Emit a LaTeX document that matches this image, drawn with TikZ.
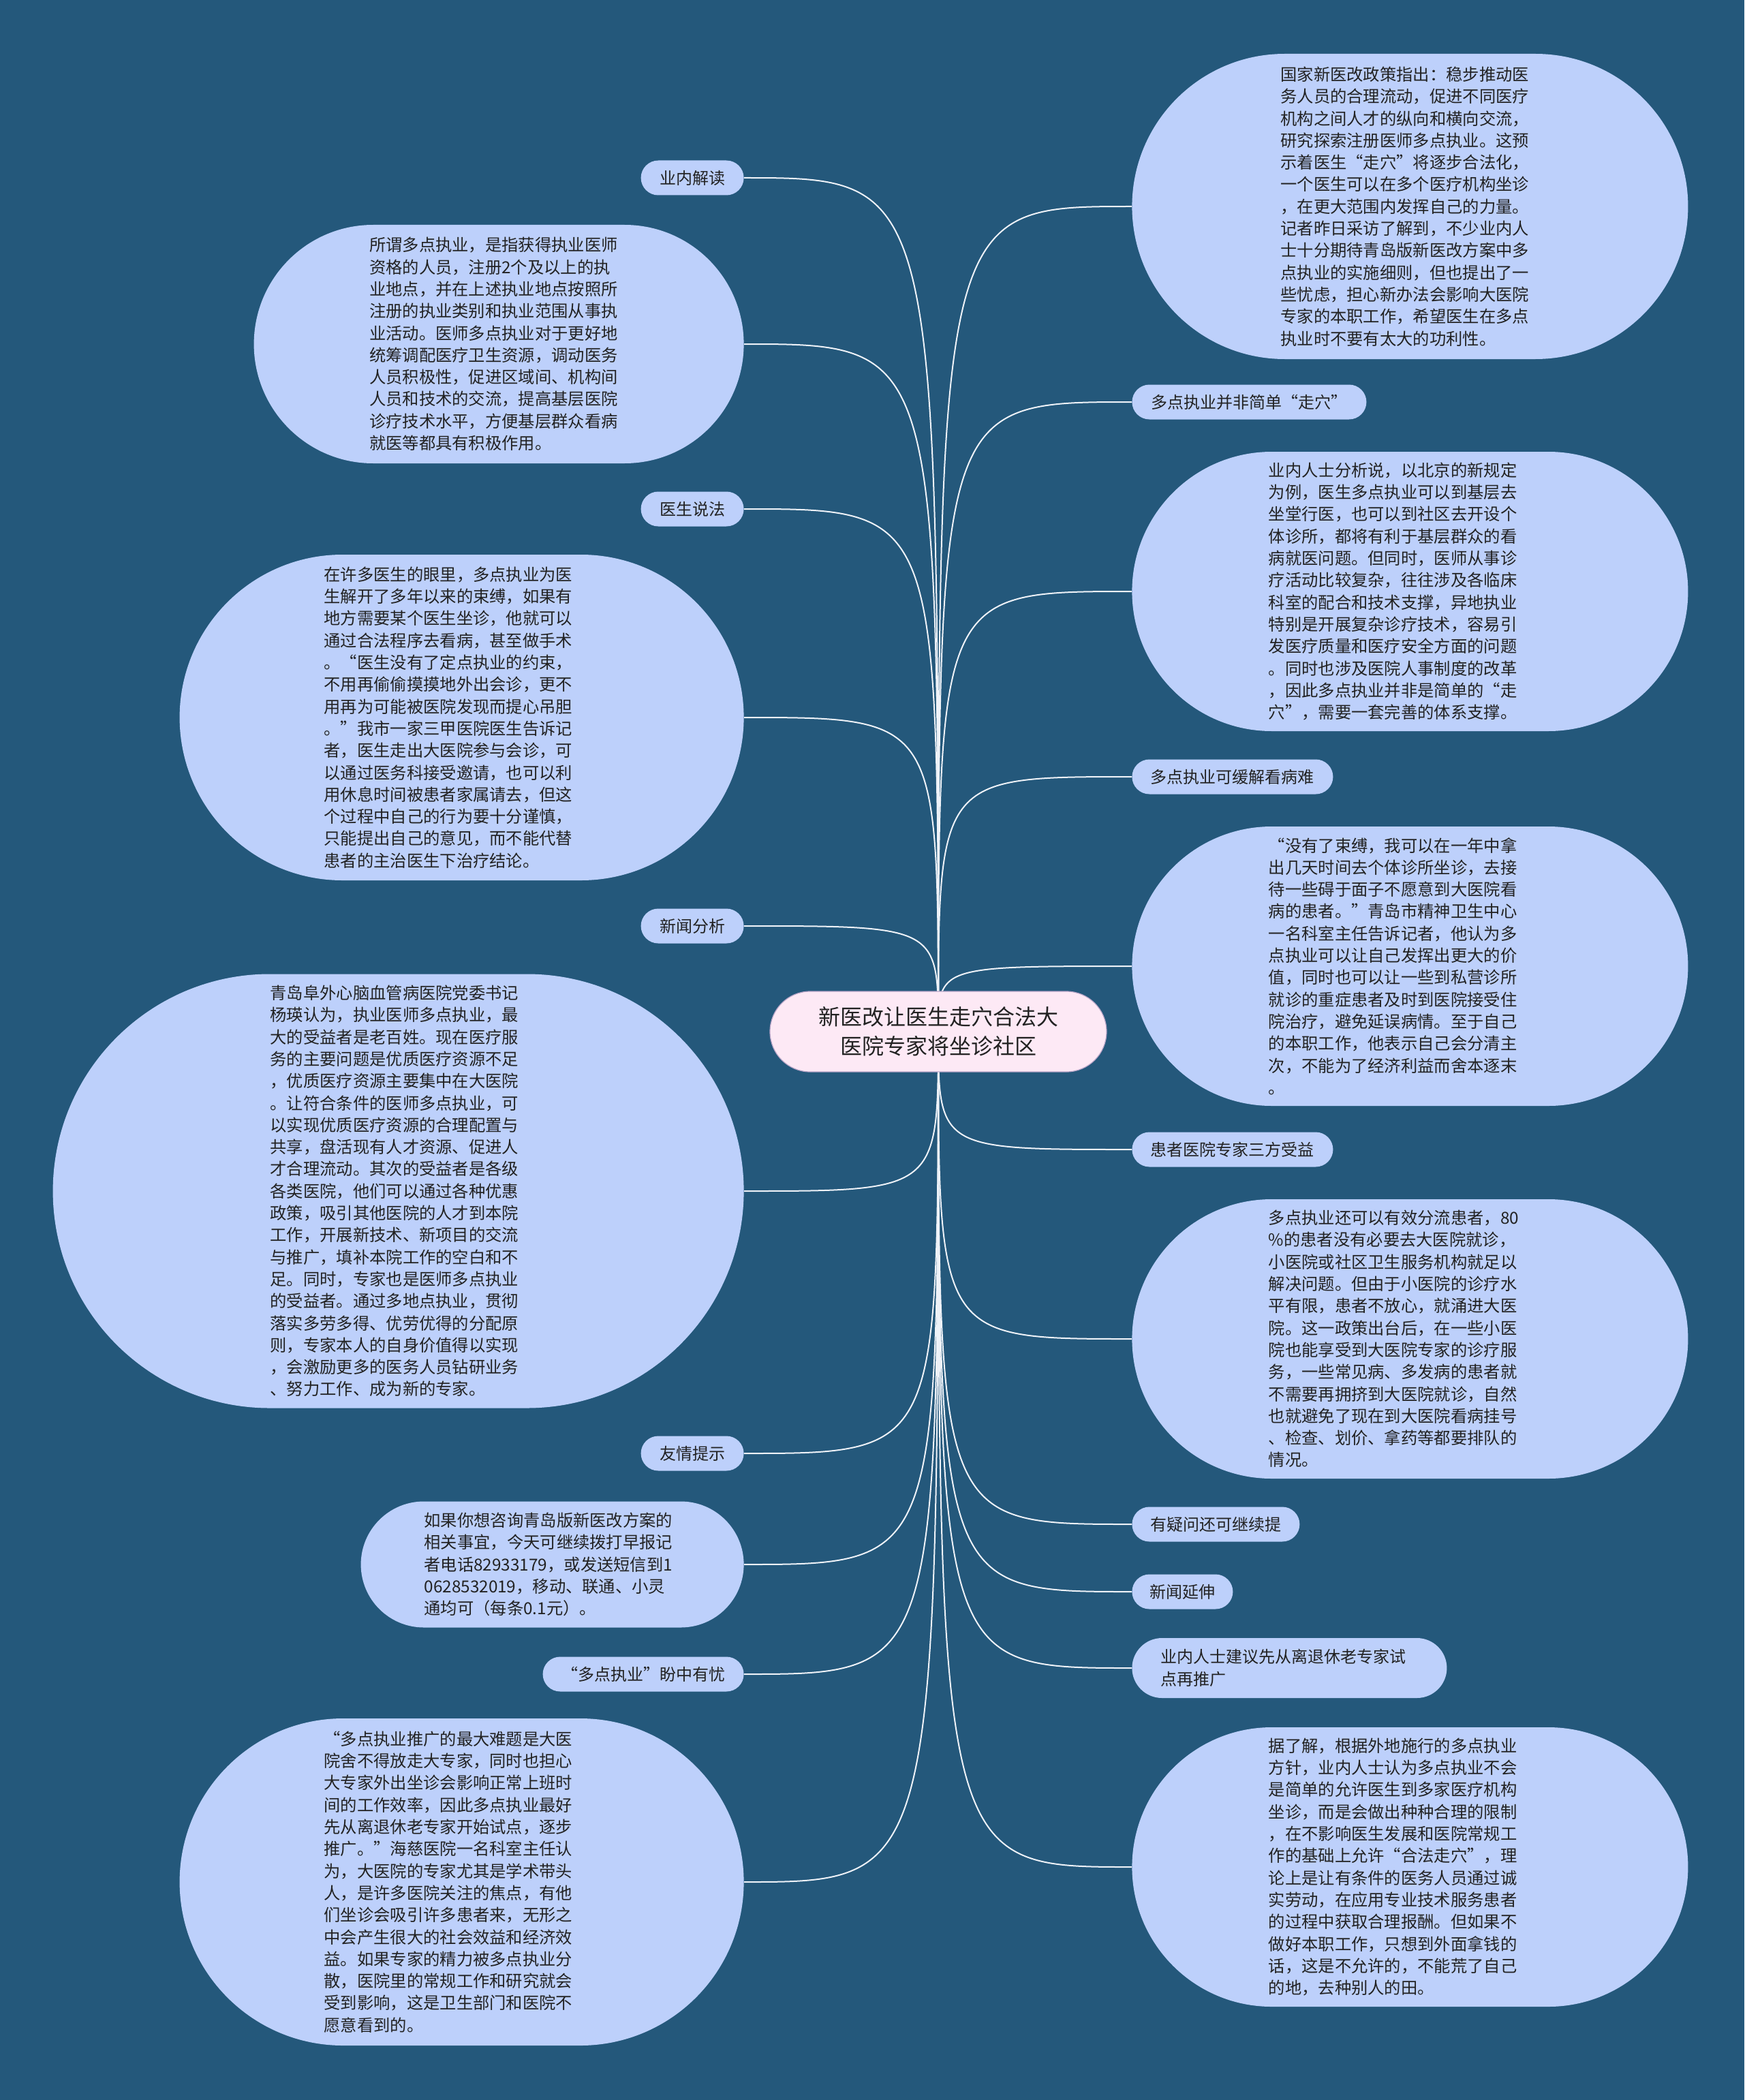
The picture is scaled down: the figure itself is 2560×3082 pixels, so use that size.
\documentclass[tikz,border=0pt]{standalone}
\usepackage{fontspec}
\setmainfont{Noto Sans CJK SC}
\newfontfamily\fwqfont{Noto Sans CJK SC}[RawFeature=+fwid]
\newcommand\myql{{\fwqfont “}}
\newcommand\myqr{{\fwqfont ”}}
\newcommand\btxt[2]{\begin{minipage}{186pt}#2\end{minipage}\hspace*{#1}}
\usetikzlibrary{shapes.misc}
\pgfdeclarelayer{bg}
\pgfsetlayers{bg,main}
\definecolor{bgc}{HTML}{24587B}
\definecolor{boxc}{HTML}{BDD0FB}
\definecolor{rootc}{HTML}{FDE9F5}
\definecolor{rootline}{HTML}{B9A6C8}
\definecolor{txtc}{HTML}{222222}
\definecolor{edgec}{HTML}{EEF2F8}
\begin{document}
\begin{tikzpicture}[x=0.5pt,y=-0.5pt,
  pillbase/.style={rounded rectangle, fill=boxc, text=txtc, inner sep=0pt},
  lbl/.style={pillbase, font=\fontsize{12pt}{16.3pt}\selectfont, minimum height=25.5pt},
  blk/.style={pillbase, font=\fontsize{12.15pt}{16.15pt}\selectfont},
  rootnode/.style={rounded rectangle, fill=rootc, draw=rootline, line width=0.6pt, text=txtc,
    inner sep=0pt, align=center, font=\fontsize{16pt}{21.5pt}\selectfont,
    minimum width=247pt, minimum height=59pt},
  conn/.style={draw=edgec, line width=1pt}]
\useasboundingbox (0,0) rectangle (2560,3082);

% root
\node[rootnode] (root) at (1377,1514) {新医改让医生走穴合法大\\医院专家将坐诊社区};

% left side
\node[lbl, minimum width=75.5pt, anchor=east] (l1) at (1092,261) {业内解读};
\node[blk, minimum width=359.5pt, minimum height=175pt, anchor=east] (b1) at (1092,505) {\btxt{4pt}{所谓多点执业，是指获得执业医师\\
资格的人员，注册2个及以上的执\\
业地点，并在上述执业地点按照所\\
注册的执业类别和执业范围从事执\\
业活动。医师多点执业对于更好地\\
统筹调配医疗卫生资源，调动医务\\
人员积极性，促进区域间、机构间\\
人员和技术的交流，提高基层医院\\
诊疗技术水平，方便基层群众看病\\
就医等都具有积极作用。}};

\node[lbl, minimum width=75.5pt, anchor=east] (l2) at (1092,747) {医生说法};
\node[blk, minimum width=414pt, minimum height=239pt, anchor=east] (b2) at (1092,1053) {\btxt{16pt}{在许多医生的眼里，多点执业为医\\
生解开了多年以来的束缚，如果有\\
地方需要某个医生坐诊，他就可以\\
通过合法程序去看病，甚至做手术\\
。\myql 医生没有了定点执业的约束，\\
不用再偷偷摸摸地外出会诊，更不\\
用再为可能被医院发现而提心吊胆\\
。\myqr 我市一家三甲医院医生告诉记\\
者，医生走出大医院参与会诊，可\\
以通过医务科接受邀请，也可以利\\
用休息时间被患者家属请去，但这\\
个过程中自己的行为要十分谨慎，\\
只能提出自己的意见，而不能代替\\
患者的主治医生下治疗结论。}};

\node[lbl, minimum width=75.5pt, anchor=east] (l3) at (1092,1359) {新闻分析};
\node[blk, minimum width=507pt, minimum height=318.5pt, anchor=east] (b3) at (1092,1748) {\btxt{2pt}{青岛阜外心脑血管病医院党委书记\\
杨瑛认为，执业医师多点执业，最\\
大的受益者是老百姓。现在医疗服\\
务的主要问题是优质医疗资源不足\\
，优质医疗资源主要集中在大医院\\
。让符合条件的医师多点执业，可\\
以实现优质医疗资源的合理配置与\\
共享，盘活现有人才资源、促进人\\
才合理流动。其次的受益者是各级\\
各类医院，他们可以通过各种优惠\\
政策，吸引其他医院的人才到本院\\
工作，开展新技术、新项目的交流\\
与推广，填补本院工作的空白和不\\
足。同时，专家也是医师多点执业\\
的受益者。通过多地点执业，贯彻\\
落实多劳多得、优劳优得的分配原\\
则，专家本人的自身价值得以实现\\
，会激励更多的医务人员钻研业务\\
、努力工作、成为新的专家。}};

\node[lbl, minimum width=75.5pt, anchor=east] (l4) at (1092,2133) {友情提示};
\node[blk, minimum width=281pt, minimum height=92.5pt, anchor=east] (b4) at (1092,2296) {\btxt{2pt}{如果你想咨询青岛版新医改方案的\\
相关事宜，今天可继续拨打早报记\\
者电话82933179，或发送短信到1\\
0628532019，移动、联通、小灵\\
通均可（每条0.1元）。}};

\node[lbl, minimum width=147.5pt, anchor=east] (l5) at (1092,2457) {\myql 多点执业\myqr 盼中有忧};
\node[blk, minimum width=414pt, minimum height=240pt, anchor=east] (b5) at (1092,2762) {\btxt{16pt}{\myql 多点执业推广的最大难题是大医\\
院舍不得放走大专家，同时也担心\\
大专家外出坐诊会影响正常上班时\\
间的工作效率，因此多点执业最好\\
先从离退休老专家开始试点，逐步\\
推广。\myqr 海慈医院一名科室主任认\\
为，大医院的专家尤其是学术带头\\
人，是许多医院关注的焦点，有他\\
们坐诊会吸引许多患者来，无形之\\
中会产生很大的社会效益和经济效\\
益。如果专家的精力被多点执业分\\
散，医院里的常规工作和研究就会\\
受到影响，这是卫生部门和医院不\\
愿意看到的。}};

% right side
\node[blk, minimum width=408pt, minimum height=224pt, anchor=west] (r1) at (1661,303) {\btxt{4pt}{国家新医改政策指出：稳步推动医\\
务人员的合理流动，促进不同医疗\\
机构之间人才的纵向和横向交流，\\
研究探索注册医师多点执业。这预\\
示着医生\myql 走穴\myqr 将逐步合法化，\\
一个医生可以在多个医疗机构坐诊\\
，在更大范围内发挥自己的力量。\\
记者昨日采访了解到，不少业内人\\
士十分期待青岛版新医改方案中多\\
点执业的实施细则，但也提出了一\\
些忧虑，担心新办法会影响大医院\\
专家的本职工作，希望医生在多点\\
执业时不要有太大的功利性。}};

\node[lbl, minimum width=172pt, anchor=west] (s1) at (1661,590) {多点执业并非简单\myql 走穴\myqr};
\node[blk, minimum width=408pt, minimum height=205pt, anchor=west] (r2) at (1661,868) {\btxt{21.6pt}{业内人士分析说，以北京的新规定\\
为例，医生多点执业可以到基层去\\
坐堂行医，也可以到社区去开设个\\
体诊所，都将有利于基层群众的看\\
病就医问题。但同时，医师从事诊\\
疗活动比较复杂，往往涉及各临床\\
科室的配合和技术支撑，异地执业\\
特别是开展复杂诊疗技术，容易引\\
发医疗质量和医疗安全方面的问题\\
。同时也涉及医院人事制度的改革\\
，因此多点执业并非是简单的\myql 走\\
穴\myqr ，需要一套完善的体系支撑。}};

\node[lbl, minimum width=147.5pt, anchor=west] (s2) at (1661,1140) {多点执业可缓解看病难};
\node[blk, minimum width=408pt, minimum height=205pt, anchor=west] (r3) at (1661,1418) {\btxt{21.6pt}{\myql 没有了束缚，我可以在一年中拿\\
出几天时间去个体诊所坐诊，去接\\
待一些碍于面子不愿意到大医院看\\
病的患者。\myqr 青岛市精神卫生中心\\
一名科室主任告诉记者，他认为多\\
点执业可以让自己发挥出更大的价\\
值，同时也可以让一些到私营诊所\\
就诊的重症患者及时到医院接受住\\
院治疗，避免延误病情。至于自己\\
的本职工作，他表示自己会分清主\\
次，不能为了经济利益而舍本逐末\\
。}};

\node[lbl, minimum width=147.5pt, anchor=west] (s3) at (1661,1687) {患者医院专家三方受益};
\node[blk, minimum width=408pt, minimum height=205pt, anchor=west] (r4) at (1661,1965) {\btxt{21.6pt}{多点执业还可以有效分流患者，80\\
\%的患者没有必要去大医院就诊，\\
小医院或社区卫生服务机构就足以\\
解决问题。但由于小医院的诊疗水\\
平有限，患者不放心，就涌进大医\\
院。这一政策出台后，在一些小医\\
院也能享受到大医院专家的诊疗服\\
务，一些常见病、多发病的患者就\\
不需要再拥挤到大医院就诊，自然\\
也就避免了现在到大医院看病挂号\\
、检查、划价、拿药等都要排队的\\
情况。}};

\node[lbl, minimum width=123pt, anchor=west] (s4) at (1661,2237) {有疑问还可继续提};
\node[lbl, minimum width=74pt, anchor=west] (s5) at (1661,2336) {新闻延伸};
\node[lbl, minimum width=231pt, minimum height=44pt, anchor=west] (s6) at (1661,2448) {\begin{minipage}{182pt}业内人士建议先从离退休老专家试\\点再推广\end{minipage}\hspace*{7pt}};
\node[blk, minimum width=408pt, minimum height=205pt, anchor=west] (r5) at (1661,2740) {\btxt{21.6pt}{据了解，根据外地施行的多点执业\\
方针，业内人士认为多点执业不会\\
是简单的允许医生到多家医疗机构\\
坐诊，而是会做出种种合理的限制\\
，在不影响医生发展和医院常规工\\
作的基础上允许\myql 合法走穴\myqr ，理\\
论上是让有条件的医务人员通过诚\\
实劳动，在应用专业技术服务患者\\
的过程中获取合理报酬。但如果不\\
做好本职工作，只想到外面拿钱的\\
话，这是不允许的，不能荒了自己\\
的地，去种别人的田。}};

\begin{pgfonlayer}{bg}
\fill[bgc] (0,0) rectangle (2560,3082);
\foreach \n in {l1,b1,l2,b2,l3,b3,l4,b4,l5,b5}
  \draw[conn] (root.center) .. controls (root.center |- \n.east) .. (\n.east);
\foreach \n in {r1,s1,r2,s2,r3,s3,r4,s4,s5,s6,r5}
  \draw[conn] (root.center) .. controls (root.center |- \n.west) .. (\n.west);
\end{pgfonlayer}
\end{tikzpicture}
\end{document}
